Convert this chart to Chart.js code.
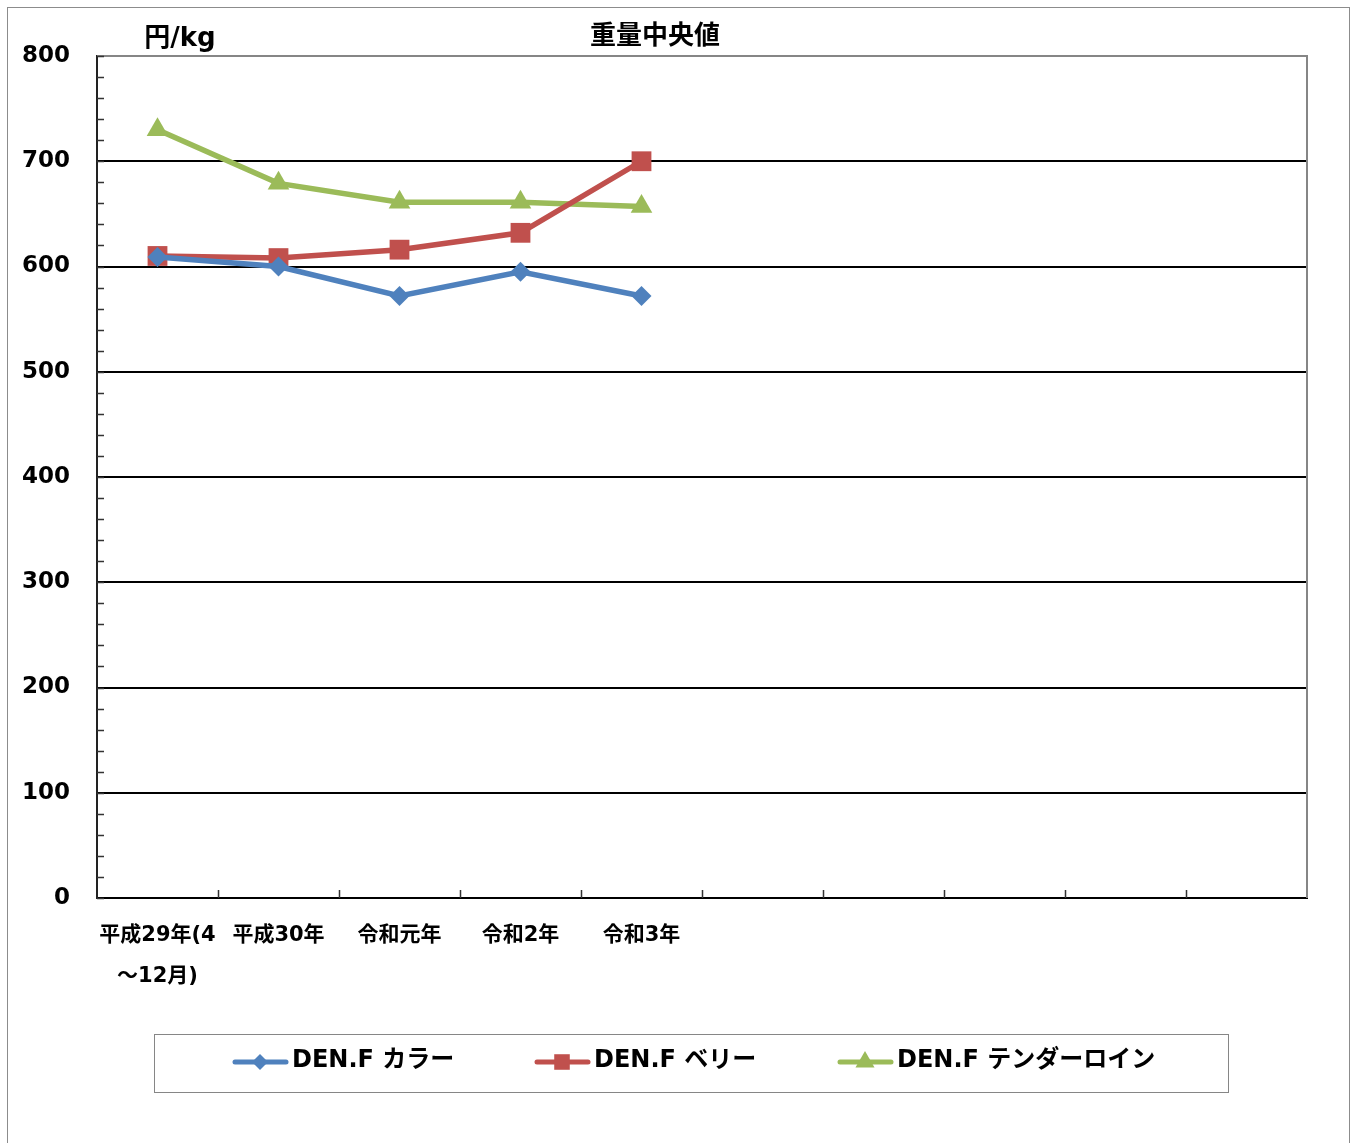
<!DOCTYPE html>
<html>
<head>
<meta charset="utf-8">
<script src="https://cdn.jsdelivr.net/npm/chart.js@4.4.1/dist/chart.umd.min.js"></script>
<style>
  html, body { margin: 0; padding: 0; background: #fff; }
  canvas { display: block; }
</style>
</head>
<body>
<canvas id="chart" width="1356" height="1143"></canvas>
<script>
// categories (only the first five years have data)
const categories = [['平成29年(4', '～12月)'], '平成30年', '令和元年', '令和2年', '令和3年', '', '', '', '', ''];
const seriesNames = ['DEN.F カラー', 'DEN.F ベリー', 'DEN.F テンダーロイン'];
const collar = [609, 600, 572, 595, 572];
const belly = [610, 608, 616, 632, 700];
const tenderloin = [730, 679, 661, 661, 657];
const yMin = 0, yMax = 800, yStep = 100, yMinorStep = 20;
const chartTitle = '重量中央値';
const unitLabel = '円/kg';

const FONT = '"DejaVu Sans", "Noto Sans CJK JP", sans-serif';
const colors = ['#4F81BD', '#C0504D', '#9BBB59'];
const styles = [
  { pointStyle: 'rectRot', radius: 10, legendRadius: 8 },
  { pointStyle: 'rect', radius: 14, legendRadius: 11 },
  { pointStyle: 'triangle', radius: 12.5, legendRadius: 11 }
];

function makeSet(i, data) {
  return {
    label: seriesNames[i],
    data: data,
    borderColor: colors[i],
    backgroundColor: colors[i],
    borderWidth: 5.5,
    pointStyle: styles[i].pointStyle,
    pointRadius: styles[i].radius,
    pointBorderWidth: 0,
    pointBackgroundColor: colors[i],
    tension: 0,
    spanGaps: false
  };
}

// frame, minor ticks, titles and the boxed legend
const decor = {
  id: 'decor',
  beforeDraw(chart) {
    const ctx = chart.ctx;
    ctx.save();
    ctx.fillStyle = '#fff';
    ctx.fillRect(0, 0, chart.width, chart.height);
    ctx.strokeStyle = '#8c8c8c';
    ctx.lineWidth = 1;
    ctx.strokeRect(7.5, 7.5, 1342, 1160);
    ctx.restore();
  },
  afterDraw(chart) {
    const { ctx, chartArea: a, scales: { x, y } } = chart;
    ctx.save();
    // top / right border of plot
    ctx.strokeStyle = '#868686';
    ctx.lineWidth = 2;
    ctx.beginPath();
    ctx.moveTo(a.left, a.top);
    ctx.lineTo(a.right, a.top);
    ctx.lineTo(a.right, a.bottom);
    ctx.stroke();

    // minor ticks on the value axis (inside)
    ctx.strokeStyle = '#333';
    ctx.lineWidth = 1.5;
    ctx.beginPath();
    for (let v = yMin; v <= yMax; v += yMinorStep) {
      const py = Math.round(y.getPixelForValue(v)) + 0.5;
      ctx.moveTo(a.left, py);
      ctx.lineTo(a.left + 7, py);
    }
    // category boundary ticks (inside)
    for (let i = 1; i < categories.length; i++) {
      const px = Math.round((x.getPixelForValue(i - 1) + x.getPixelForValue(i)) / 2) + 0.5;
      ctx.moveTo(px, a.bottom);
      ctx.lineTo(px, a.bottom - 8);
    }
    ctx.stroke();

    // titles
    ctx.fillStyle = '#000';
    ctx.font = 'bold 26px ' + FONT;
    ctx.textAlign = 'center';
    ctx.textBaseline = 'middle';
    ctx.fillText(chartTitle, 655, 37);
    ctx.fillText(unitLabel, 180, 39);

    // legend box
    ctx.strokeStyle = '#868686';
    ctx.lineWidth = 1;
    ctx.strokeRect(154.5, 1034.5, 1074, 58);
    const itemX = [233, 535, 838];
    const ly = 1062;
    chart.data.datasets.forEach((ds, i) => {
      const x0 = itemX[i];
      ctx.strokeStyle = ds.borderColor;
      ctx.lineWidth = 5;
      ctx.lineCap = 'round';
      ctx.beginPath();
      ctx.moveTo(x0 + 2, ly);
      ctx.lineTo(x0 + 53, ly);
      ctx.stroke();
      ctx.fillStyle = ds.backgroundColor;
      Chart.helpers.drawPoint(ctx, {
        pointStyle: ds.pointStyle,
        radius: styles[i].legendRadius,
        rotation: 0,
        borderWidth: 0
      }, x0 + 27, ly);
      ctx.fillStyle = '#000';
      ctx.font = 'bold 24px ' + FONT;
      ctx.textAlign = 'left';
      ctx.textBaseline = 'middle';
      ctx.fillText(ds.label, x0 + 59, ly - 1);
    });
    ctx.restore();
  }
};

new Chart(document.getElementById('chart'), {
  type: 'line',
  data: {
    labels: categories,
    datasets: [makeSet(0, collar), makeSet(1, belly), makeSet(2, tenderloin)]
  },
  options: {
    responsive: false,
    animation: false,
    events: [],
    layout: { padding: { left: 0, top: 56, right: 49, bottom: 145 } },
    plugins: { legend: { display: false }, title: { display: false }, tooltip: { enabled: false } },
    scales: {
      x: {
        offset: true,
        grid: { drawOnChartArea: false, drawTicks: false, offset: true },
        border: { display: true, color: '#000', width: 2 },
        ticks: {
          autoSkip: false,
          maxRotation: 0,
          minRotation: 0,
          padding: 17,
          color: '#000',
          font: { family: FONT, size: 21, weight: 'bold', lineHeight: 1.95 }
        },
        afterFit(scale) { scale.height = 100; }
      },
      y: {
        min: yMin,
        max: yMax,
        grid: {
          drawTicks: false,
          lineWidth: 2,
          color: (c) => (c.tick && c.tick.value > yMin && c.tick.value < yMax) ? '#000' : 'rgba(0,0,0,0)'
        },
        border: { display: true, color: '#222', width: 2 },
        ticks: {
          stepSize: yStep,
          padding: 27,
          color: '#000',
          font: { family: FONT, size: 23, weight: 'bold' }
        },
        afterFit(scale) { scale.width = 97; }
      }
    }
  },
  plugins: [decor]
});
</script>
</body>
</html>
